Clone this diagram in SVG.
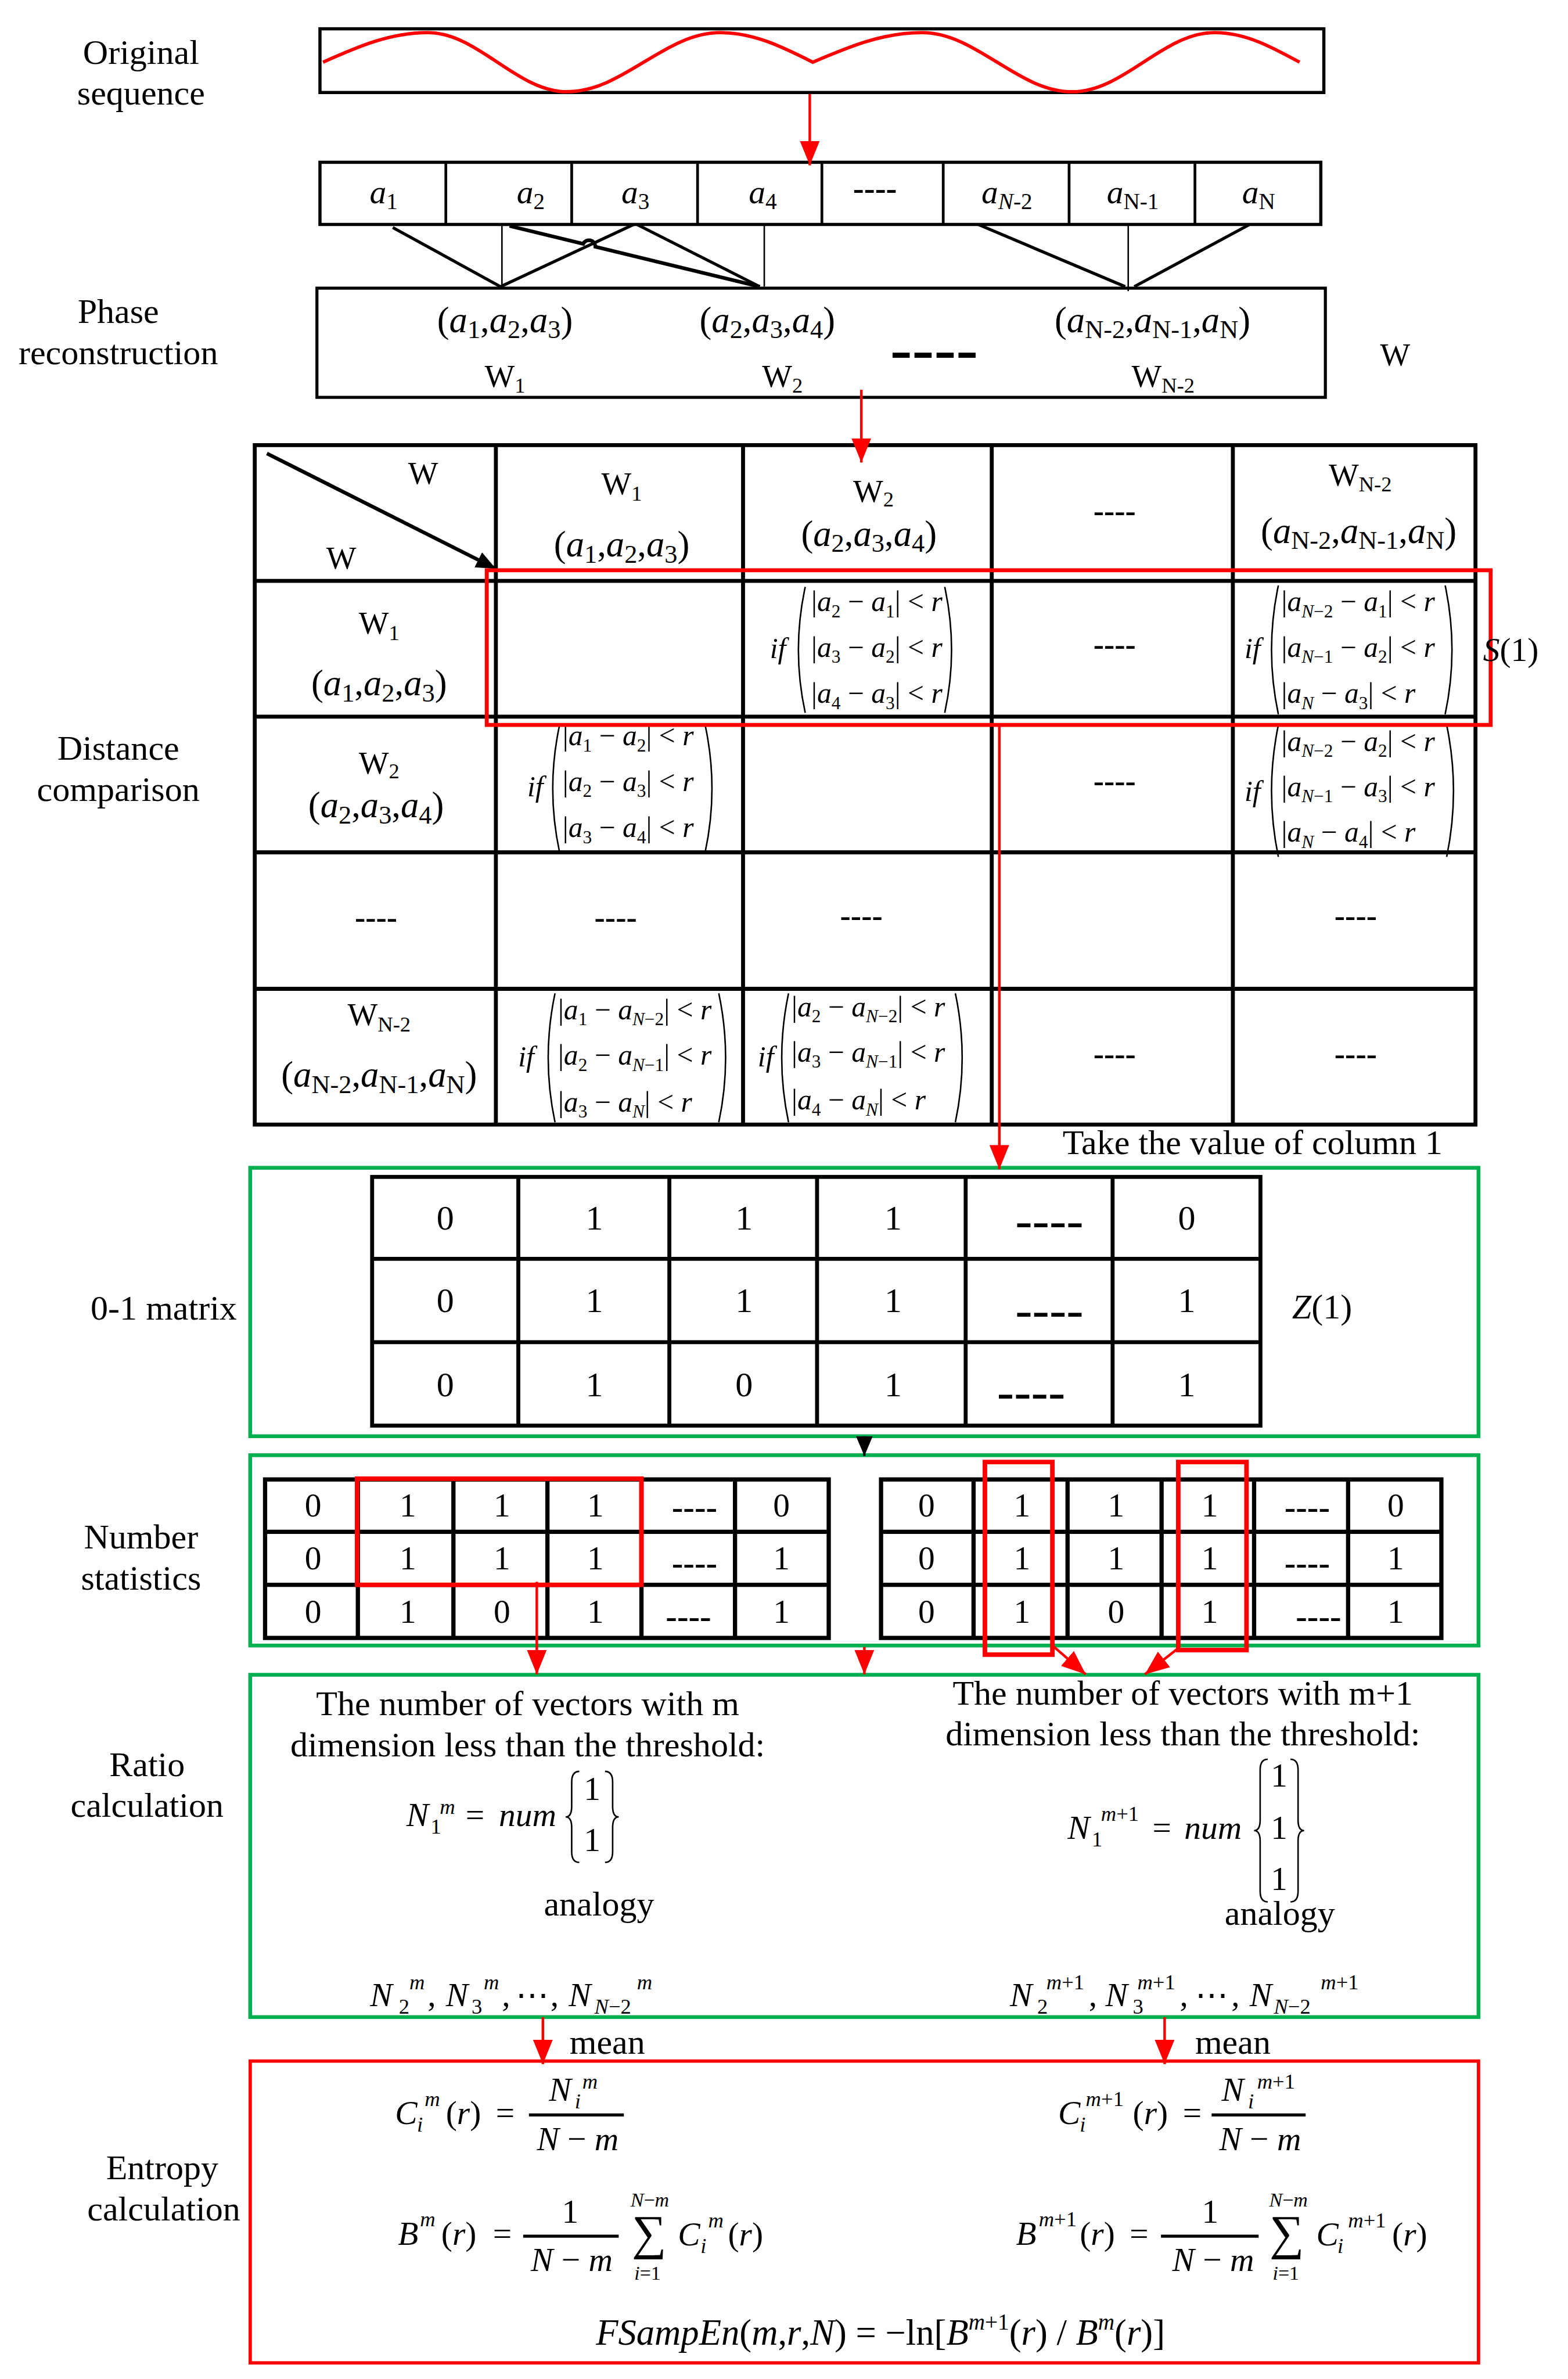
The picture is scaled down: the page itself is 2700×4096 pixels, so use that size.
<svg xmlns="http://www.w3.org/2000/svg" width="2700" height="4096" viewBox="0 0 2700 4096">
<defs>
<style>
text{font-family:"Liberation Serif","Times New Roman","DejaVu Serif",serif;fill:#000}
.lb{font-size:23px;text-anchor:middle}
.c{text-anchor:middle}
.it{font-style:italic}
.tp{font-size:24px}
.s16{font-size:17px}
.w{font-size:21px}
.s14{font-size:14px}
.mx{font-size:19px}
.sx{font-size:12px}
.fm{font-size:22px}
.ss{font-size:14px}
.n23{font-size:23px;text-anchor:middle}
.n22{font-size:22px;text-anchor:middle}
.d{font-weight:bold;text-anchor:middle}
.bx{fill:none;stroke:#000}
.ln{fill:none;stroke:#000}
.g{fill:none;stroke:#00B050;stroke-width:2.5}
.rd{fill:none;stroke:#f00}
.par{fill:none;stroke:#000;stroke-width:1}
.ra{stroke:#f00;stroke-width:1.7;fill:none;marker-end:url(#ar)}
</style>
<marker id="ar" viewBox="0 0 16 13" refX="16" refY="6.5" markerWidth="16" markerHeight="13" orient="auto" markerUnits="userSpaceOnUse"><path d="M0,0L16,6.5L0,13z" fill="#f00"/></marker>
<marker id="ab" viewBox="0 0 13 11" refX="13" refY="5.5" markerWidth="13" markerHeight="11" orient="auto" markerUnits="userSpaceOnUse"><path d="M0,0L13,5.5L0,11z" fill="#000"/></marker>
</defs>
<rect width="2700" height="4096" fill="#fff"/>
<g transform="scale(2.6112)">

<g id="labels">
<text class="lb" x="93" y="42">Original</text>
<text class="lb" x="93" y="69">sequence</text>
<text class="lb" x="78" y="213">Phase</text>
<text class="lb" x="78" y="240">reconstruction</text>
<text class="lb" x="78" y="501">Distance</text>
<text class="lb" x="78" y="528">comparison</text>
<text class="lb" x="108" y="870">0-1 matrix</text>
<text class="lb" x="93" y="1021">Number</text>
<text class="lb" x="93" y="1048">statistics</text>
<text class="lb" x="97" y="1171">Ratio</text>
<text class="lb" x="97" y="1198">calculation</text>
<text class="lb" x="107" y="1437">Entropy</text>
<text class="lb" x="108" y="1464">calculation</text>
</g>

<g id="sequence">
<rect x="211" y="19" width="662" height="42" class="bx" stroke-width="2.1"/>
<path d="M213,41 C235.5,31 257,21.5 282,21.5 C298.6,21.5 313,31 328,41 C343,51 357.4,60.5 374,60.5 C392.3,60.5 408,51 424.5,41 C441,31 456.7,21.5 475,21.5 C497,21.5 516.1,31 536,41 C559.5,31 582,21.5 608,21.5 C625.9,21.5 641.3,31 657.5,41 C673.7,51 689.1,60.5 707,60.5 C724,60.5 738.7,51 754,41 C769.3,31 784,21.5 801,21.5 C821.3,21.5 838.7,31 857,41" fill="none" stroke="#f00" stroke-width="2.2"/>
</g>

<g id="samples">
<rect x="211" y="107" width="660" height="41" class="bx" stroke-width="2.1"/>
<path d="M294,107V148M377,107V148M460,107V148M542,107V148M622,107V148M705,107V148M788,107V148" class="ln" stroke-width="1.8"/>
<text class="c" font-size="22" x="253" y="134"><tspan class="it">a</tspan><tspan font-size="15" dy="4">1</tspan></text>
<text class="c" font-size="22" x="350" y="134"><tspan class="it">a</tspan><tspan font-size="15" dy="4">2</tspan></text>
<text class="c" font-size="22" x="419" y="134"><tspan class="it">a</tspan><tspan font-size="15" dy="4">3</tspan></text>
<text class="c" font-size="22" x="503" y="134"><tspan class="it">a</tspan><tspan font-size="15" dy="4">4</tspan></text>
<text class="d" font-size="22" x="577" y="131.5" textLength="29" lengthAdjust="spacingAndGlyphs">----</text>
<text class="c" font-size="22" x="664" y="134"><tspan class="it">a</tspan><tspan font-size="15" dy="4"><tspan class="it">N</tspan>-2</tspan></text>
<text class="c" font-size="22" x="747" y="134"><tspan class="it">a</tspan><tspan font-size="15" dy="4">N-1</tspan></text>
<text class="c" font-size="22" x="830" y="134"><tspan class="it">a</tspan><tspan font-size="15" dy="4">N</tspan></text>
</g>

<g id="phase">
<rect x="209" y="190" width="665" height="72" class="bx" stroke-width="2"/>
<text class="tp c" x="333" y="219">(<tspan class="it">a</tspan><tspan class="s16" dy="4">1</tspan><tspan dy="-4">,</tspan><tspan class="it">a</tspan><tspan class="s16" dy="4">2</tspan><tspan dy="-4">,</tspan><tspan class="it">a</tspan><tspan class="s16" dy="4">3</tspan><tspan dy="-4">)</tspan></text>
<text class="tp c" x="506" y="219">(<tspan class="it">a</tspan><tspan class="s16" dy="4">2</tspan><tspan dy="-4">,</tspan><tspan class="it">a</tspan><tspan class="s16" dy="4">3</tspan><tspan dy="-4">,</tspan><tspan class="it">a</tspan><tspan class="s16" dy="4">4</tspan><tspan dy="-4">)</tspan></text>
<text class="tp c" x="760" y="219">(<tspan class="it">a</tspan><tspan class="s16" dy="4">N-2</tspan><tspan dy="-4">,</tspan><tspan class="it">a</tspan><tspan class="s16" dy="4">N-1</tspan><tspan dy="-4">,</tspan><tspan class="it">a</tspan><tspan class="s16" dy="4">N</tspan><tspan dy="-4">)</tspan></text>
<text class="d" font-size="40" x="616" y="243.5" textLength="58" lengthAdjust="spacingAndGlyphs">----</text>
<text class="w c" x="333" y="255">W<tspan class="s14" dy="4">1</tspan></text>
<text class="w c" x="516" y="255">W<tspan class="s14" dy="4">2</tspan></text>
<text class="w c" x="767" y="255">W<tspan class="s14" dy="4">N-2</tspan></text>
</g>

<g id="w-label">
<text class="w c" x="920" y="241">W</text>
</g>

<g id="distance-table">
<rect x="168" y="293.5" width="805" height="448" class="bx" stroke-width="2.6"/>
<path d="M327,293.5V741.5M490,293.5V741.5M654,293.5V741.5M813,293.5V741.5M168,383H973M168,472.5H973M168,562H973M168,652H973" class="ln" stroke-width="2.6"/>
<line x1="176" y1="299" x2="327" y2="375" stroke="#000" stroke-width="2.4" marker-end="url(#ab)"/>
<text class="w c" x="279" y="319">W</text>
<text class="w c" x="225" y="375">W</text>
<text class="w c" x="410" y="326">W<tspan class="s14" dy="4">1</tspan></text>
<text class="tp c" x="410" y="367">(<tspan class="it">a</tspan><tspan class="s16" dy="4">1</tspan><tspan dy="-4">,</tspan><tspan class="it">a</tspan><tspan class="s16" dy="4">2</tspan><tspan dy="-4">,</tspan><tspan class="it">a</tspan><tspan class="s16" dy="4">3</tspan><tspan dy="-4">)</tspan></text>
<text class="w c" x="576" y="331">W<tspan class="s14" dy="3">2</tspan></text>
<text class="tp c" x="573" y="360">(<tspan class="it">a</tspan><tspan class="s16" dy="4">2</tspan><tspan dy="-4">,</tspan><tspan class="it">a</tspan><tspan class="s16" dy="4">3</tspan><tspan dy="-4">,</tspan><tspan class="it">a</tspan><tspan class="s16" dy="4">4</tspan><tspan dy="-4">)</tspan></text>
<text class="d" font-size="21" x="735" y="344" textLength="28" lengthAdjust="spacingAndGlyphs">----</text>
<text class="w c" x="897" y="320">W<tspan class="s14" dy="4">N-2</tspan></text>
<text class="tp c" x="896" y="358">(<tspan class="it">a</tspan><tspan class="s16" dy="4">N-2</tspan><tspan dy="-4">,</tspan><tspan class="it">a</tspan><tspan class="s16" dy="4">N-1</tspan><tspan dy="-4">,</tspan><tspan class="it">a</tspan><tspan class="s16" dy="4">N</tspan><tspan dy="-4">)</tspan></text>

<text class="w c" x="250" y="418">W<tspan class="s14" dy="4">1</tspan></text>
<text class="tp c" x="250" y="458.5">(<tspan class="it">a</tspan><tspan class="s16" dy="4">1</tspan><tspan dy="-4">,</tspan><tspan class="it">a</tspan><tspan class="s16" dy="4">2</tspan><tspan dy="-4">,</tspan><tspan class="it">a</tspan><tspan class="s16" dy="4">3</tspan><tspan dy="-4">)</tspan></text>
<text class="mx it c" x="513" y="434">if</text>
<path class="par" d="M531,387 Q522,428.5 531,470M623,387 Q632,428.5 623,470"/>
<text class="mx" x="535" y="403">|<tspan class="it">a</tspan><tspan class="sx" dy="4">2</tspan><tspan dy="-4"> − </tspan><tspan class="it">a</tspan><tspan class="sx" dy="4">1</tspan><tspan dy="-4">| &lt; </tspan><tspan class="it">r</tspan></text>
<text class="mx" x="535" y="433">|<tspan class="it">a</tspan><tspan class="sx" dy="4">3</tspan><tspan dy="-4"> − </tspan><tspan class="it">a</tspan><tspan class="sx" dy="4">2</tspan><tspan dy="-4">| &lt; </tspan><tspan class="it">r</tspan></text>
<text class="mx" x="535" y="463.5">|<tspan class="it">a</tspan><tspan class="sx" dy="4">4</tspan><tspan dy="-4"> − </tspan><tspan class="it">a</tspan><tspan class="sx" dy="4">3</tspan><tspan dy="-4">| &lt; </tspan><tspan class="it">r</tspan></text>
<text class="d" font-size="21" x="735" y="432" textLength="28" lengthAdjust="spacingAndGlyphs">----</text>
<text class="mx it c" x="826" y="434">if</text>
<path class="par" d="M843,386 Q834,428.5 843,471M953,386 Q962,428.5 953,471"/>
<text class="mx" x="845" y="403">|<tspan class="it">a</tspan><tspan class="sx" dy="4"><tspan class="it">N</tspan>−2</tspan><tspan dy="-4"> − </tspan><tspan class="it">a</tspan><tspan class="sx" dy="4">1</tspan><tspan dy="-4">| &lt; </tspan><tspan class="it">r</tspan></text>
<text class="mx" x="845" y="433">|<tspan class="it">a</tspan><tspan class="sx" dy="4"><tspan class="it">N</tspan>−1</tspan><tspan dy="-4"> − </tspan><tspan class="it">a</tspan><tspan class="sx" dy="4">2</tspan><tspan dy="-4">| &lt; </tspan><tspan class="it">r</tspan></text>
<text class="mx" x="845" y="463.5">|<tspan class="it">a</tspan><tspan class="sx it" dy="4">N</tspan><tspan dy="-4"> − </tspan><tspan class="it">a</tspan><tspan class="sx" dy="4">3</tspan><tspan dy="-4">| &lt; </tspan><tspan class="it">r</tspan></text>

<text class="w c" x="250" y="510">W<tspan class="s14" dy="3">2</tspan></text>
<text class="tp c" x="248" y="539">(<tspan class="it">a</tspan><tspan class="s16" dy="4">2</tspan><tspan dy="-4">,</tspan><tspan class="it">a</tspan><tspan class="s16" dy="4">3</tspan><tspan dy="-4">,</tspan><tspan class="it">a</tspan><tspan class="s16" dy="4">4</tspan><tspan dy="-4">)</tspan></text>
<text class="mx it c" x="353" y="525">if</text>
<path class="par" d="M369,478 Q360,520 369,562M465,478 Q474,520 465,562"/>
<text class="mx" x="371" y="491.5">|<tspan class="it">a</tspan><tspan class="sx" dy="4">1</tspan><tspan dy="-4"> − </tspan><tspan class="it">a</tspan><tspan class="sx" dy="4">2</tspan><tspan dy="-4">| &lt; </tspan><tspan class="it">r</tspan></text>
<text class="mx" x="371" y="521.5">|<tspan class="it">a</tspan><tspan class="sx" dy="4">2</tspan><tspan dy="-4"> − </tspan><tspan class="it">a</tspan><tspan class="sx" dy="4">3</tspan><tspan dy="-4">| &lt; </tspan><tspan class="it">r</tspan></text>
<text class="mx" x="371" y="552">|<tspan class="it">a</tspan><tspan class="sx" dy="4">3</tspan><tspan dy="-4"> − </tspan><tspan class="it">a</tspan><tspan class="sx" dy="4">4</tspan><tspan dy="-4">| &lt; </tspan><tspan class="it">r</tspan></text>
<text class="d" font-size="21" x="735" y="522" textLength="28" lengthAdjust="spacingAndGlyphs">----</text>
<text class="mx it c" x="826" y="528">if</text>
<path class="par" d="M843,478 Q834,521.5 843,565M954,478 Q963,521.5 954,565"/>
<text class="mx" x="845" y="495">|<tspan class="it">a</tspan><tspan class="sx" dy="4"><tspan class="it">N</tspan>−2</tspan><tspan dy="-4"> − </tspan><tspan class="it">a</tspan><tspan class="sx" dy="4">2</tspan><tspan dy="-4">| &lt; </tspan><tspan class="it">r</tspan></text>
<text class="mx" x="845" y="525">|<tspan class="it">a</tspan><tspan class="sx" dy="4"><tspan class="it">N</tspan>−1</tspan><tspan dy="-4"> − </tspan><tspan class="it">a</tspan><tspan class="sx" dy="4">3</tspan><tspan dy="-4">| &lt; </tspan><tspan class="it">r</tspan></text>
<text class="mx" x="845" y="555">|<tspan class="it">a</tspan><tspan class="sx it" dy="4">N</tspan><tspan dy="-4"> − </tspan><tspan class="it">a</tspan><tspan class="sx" dy="4">4</tspan><tspan dy="-4">| &lt; </tspan><tspan class="it">r</tspan></text>

<text class="d" font-size="21" x="248" y="612" textLength="28" lengthAdjust="spacingAndGlyphs">----</text>
<text class="d" font-size="21" x="406" y="612" textLength="28" lengthAdjust="spacingAndGlyphs">----</text>
<text class="d" font-size="21" x="568" y="611" textLength="28" lengthAdjust="spacingAndGlyphs">----</text>
<text class="d" font-size="21" x="894" y="611" textLength="28" lengthAdjust="spacingAndGlyphs">----</text>

<text class="w c" x="250" y="676">W<tspan class="s14" dy="4">N-2</tspan></text>
<text class="tp c" x="250" y="716.7">(<tspan class="it">a</tspan><tspan class="s16" dy="4">N-2</tspan><tspan dy="-4">,</tspan><tspan class="it">a</tspan><tspan class="s16" dy="4">N-1</tspan><tspan dy="-4">,</tspan><tspan class="it">a</tspan><tspan class="s16" dy="4">N</tspan><tspan dy="-4">)</tspan></text>
<text class="mx it c" x="347" y="703">if</text>
<path class="par" d="M366,655 Q357,697.5 366,740M474,655 Q483,697.5 474,740"/>
<text class="mx" x="368" y="672">|<tspan class="it">a</tspan><tspan class="sx" dy="4">1</tspan><tspan dy="-4"> − </tspan><tspan class="it">a</tspan><tspan class="sx" dy="4"><tspan class="it">N</tspan>−2</tspan><tspan dy="-4">| &lt; </tspan><tspan class="it">r</tspan></text>
<text class="mx" x="368" y="702">|<tspan class="it">a</tspan><tspan class="sx" dy="4">2</tspan><tspan dy="-4"> − </tspan><tspan class="it">a</tspan><tspan class="sx" dy="4"><tspan class="it">N</tspan>−1</tspan><tspan dy="-4">| &lt; </tspan><tspan class="it">r</tspan></text>
<text class="mx" x="368" y="733">|<tspan class="it">a</tspan><tspan class="sx" dy="4">3</tspan><tspan dy="-4"> − </tspan><tspan class="it">a</tspan><tspan class="sx it" dy="4">N</tspan><tspan dy="-4">| &lt; </tspan><tspan class="it">r</tspan></text>
<text class="mx it c" x="505" y="703">if</text>
<path class="par" d="M520,655 Q511,697.5 520,740M630,655 Q639,697.5 630,740"/>
<text class="mx" x="522" y="670">|<tspan class="it">a</tspan><tspan class="sx" dy="4">2</tspan><tspan dy="-4"> − </tspan><tspan class="it">a</tspan><tspan class="sx" dy="4"><tspan class="it">N</tspan>−2</tspan><tspan dy="-4">| &lt; </tspan><tspan class="it">r</tspan></text>
<text class="mx" x="522" y="700">|<tspan class="it">a</tspan><tspan class="sx" dy="4">3</tspan><tspan dy="-4"> − </tspan><tspan class="it">a</tspan><tspan class="sx" dy="4"><tspan class="it">N</tspan>−1</tspan><tspan dy="-4">| &lt; </tspan><tspan class="it">r</tspan></text>
<text class="mx" x="522" y="731.5">|<tspan class="it">a</tspan><tspan class="sx" dy="4">4</tspan><tspan dy="-4"> − </tspan><tspan class="it">a</tspan><tspan class="sx it" dy="4">N</tspan><tspan dy="-4">| &lt; </tspan><tspan class="it">r</tspan></text>
<text class="d" font-size="21" x="735" y="702" textLength="28" lengthAdjust="spacingAndGlyphs">----</text>
<text class="d" font-size="21" x="894" y="702" textLength="28" lengthAdjust="spacingAndGlyphs">----</text>
</g>

<g id="row-highlight">
<rect x="321" y="376" width="662" height="102" class="rd" stroke-width="2.6"/>
<text font-size="22" x="978" y="436"><tspan class="it">S</tspan>(1)</text>
</g>

<g id="matrix">
<text class="lb" x="826" y="761">Take the value of column 1</text>
<rect x="165" y="770" width="810" height="177" class="g"/>
<rect x="245.4" y="776" width="585.8" height="164" class="bx" stroke-width="2.6"/>
<path d="M341.8,776V940M441.4,776V940M538.8,776V940M636.8,776V940M733.7,776V940M245.4,830H831.2M245.4,885H831.2" class="ln" stroke-width="2.6"/>
<text class="n23" x="293.6" y="810.6">0</text><text class="n23" x="392" y="810.6">1</text><text class="n23" x="490.7" y="810.6">1</text><text class="n23" x="589" y="810.6">1</text><text class="n23" x="782.6" y="810.6">0</text>
<text class="n23" x="293.6" y="865">0</text><text class="n23" x="392" y="865">1</text><text class="n23" x="490.7" y="865">1</text><text class="n23" x="589" y="865">1</text><text class="n23" x="782.6" y="865">1</text>
<text class="n23" x="293.6" y="920.5">0</text><text class="n23" x="392" y="920.5">1</text><text class="n23" x="490.7" y="920.5">0</text><text class="n23" x="589" y="920.5">1</text><text class="n23" x="782.6" y="920.5">1</text>
<text class="d" font-size="30" x="692" y="815" textLength="45" lengthAdjust="spacingAndGlyphs">----</text>
<text class="d" font-size="30" x="692" y="874" textLength="45" lengthAdjust="spacingAndGlyphs">----</text>
<text class="d" font-size="30" x="680" y="928" textLength="45" lengthAdjust="spacingAndGlyphs">----</text>
<text font-size="23" x="852" y="869.5"><tspan class="it">Z</tspan>(1)</text>
</g>

<g id="statistics">
<rect x="165" y="959.5" width="810" height="125.5" class="g"/>
<rect x="174.8" y="975.5" width="371.7" height="104.5" class="bx" stroke-width="2.8"/>
<path d="M236,975.5V1080M299,975.5V1080M361,975.5V1080M423,975.5V1080M484.7,975.5V1080M174.8,1010H546.5M174.8,1045H546.5" class="ln" stroke-width="2.8"/>
<rect x="581" y="975.5" width="369.5" height="104.5" class="bx" stroke-width="2.8"/>
<path d="M642,975.5V1080M704,975.5V1080M766,975.5V1080M827,975.5V1080M889,975.5V1080M581,1010H950.5M581,1045H950.5" class="ln" stroke-width="2.8"/>
<text class="n22" x="206.5" y="1000">0</text><text class="n22" x="269" y="1000">1</text><text class="n22" x="331" y="1000">1</text><text class="n22" x="392.7" y="1000">1</text><text class="n22" x="515.3" y="1000">0</text>
<text class="n22" x="206.5" y="1034.6">0</text><text class="n22" x="269" y="1034.6">1</text><text class="n22" x="331" y="1034.6">1</text><text class="n22" x="392.7" y="1034.6">1</text><text class="n22" x="515.3" y="1034.6">1</text>
<text class="n22" x="206.5" y="1070">0</text><text class="n22" x="269" y="1070">1</text><text class="n22" x="331" y="1070">0</text><text class="n22" x="392.7" y="1070">1</text><text class="n22" x="515.3" y="1070">1</text>
<text class="d" font-size="22" x="458" y="1001" textLength="30" lengthAdjust="spacingAndGlyphs">----</text>
<text class="d" font-size="22" x="458" y="1038" textLength="30" lengthAdjust="spacingAndGlyphs">----</text>
<text class="d" font-size="22" x="454" y="1073" textLength="30" lengthAdjust="spacingAndGlyphs">----</text>
<text class="n22" x="611" y="1000">0</text><text class="n22" x="674" y="1000">1</text><text class="n22" x="736" y="1000">1</text><text class="n22" x="797.8" y="1000">1</text><text class="n22" x="920.4" y="1000">0</text>
<text class="n22" x="611" y="1034.6">0</text><text class="n22" x="674" y="1034.6">1</text><text class="n22" x="736" y="1034.6">1</text><text class="n22" x="797.8" y="1034.6">1</text><text class="n22" x="920.4" y="1034.6">1</text>
<text class="n22" x="611" y="1070">0</text><text class="n22" x="674" y="1070">1</text><text class="n22" x="736" y="1070">0</text><text class="n22" x="797.8" y="1070">1</text><text class="n22" x="920.4" y="1070">1</text>
<text class="d" font-size="22" x="862" y="1001" textLength="30" lengthAdjust="spacingAndGlyphs">----</text>
<text class="d" font-size="22" x="862" y="1038" textLength="30" lengthAdjust="spacingAndGlyphs">----</text>
<text class="d" font-size="22" x="869.5" y="1073" textLength="30" lengthAdjust="spacingAndGlyphs">----</text>
<rect x="235.5" y="975" width="187.5" height="70" class="rd" stroke-width="3"/>
<rect x="649.5" y="964" width="44.5" height="127" class="rd" stroke-width="3"/>
<rect x="777" y="964" width="45" height="124" class="rd" stroke-width="3"/>
</g>

<g id="ratio">
<rect x="165" y="1104.3" width="810" height="225.7" class="g"/>
<text class="lb" x="348" y="1131">The number of vectors with m</text>
<text class="lb" x="348" y="1158">dimension less than the threshold:</text>
<text class="lb" x="780" y="1124">The number of vectors with m+1</text>
<text class="lb" x="780" y="1151">dimension less than the threshold:</text>
<text class="fm" y="1204"><tspan class="it" x="268">N</tspan><tspan class="ss" x="284" dy="5">1</tspan><tspan class="ss it" x="290" dy="-13">m</tspan><tspan x="307" dy="8">=</tspan><tspan class="it" x="329">num</tspan></text>
<path class="par" d="M382,1168 Q377,1168 377,1175 L377,1191 Q377,1198 373,1198 Q377,1198 377,1205 L377,1221 Q377,1228 382,1228M399,1168 Q404,1168 404,1175 L404,1191 Q404,1198 408,1198 Q404,1198 404,1205 L404,1221 Q404,1228 399,1228"/>
<text class="fm c" x="390.5" y="1187">1</text>
<text class="fm c" x="390.5" y="1220.5">1</text>
<text class="lb" x="395" y="1263">analogy</text>
<text class="fm" y="1212.5"><tspan class="it" x="704">N</tspan><tspan class="ss" x="720" dy="5">1</tspan><tspan class="ss" x="726" dy="-17"><tspan class="it">m</tspan>+1</tspan><tspan x="760" dy="12">=</tspan><tspan class="it" x="781">num</tspan></text>
<path class="par" d="M836,1160 Q831,1160 831,1167 L831,1200 Q831,1207 827,1207 Q831,1207 831,1214 L831,1247 Q831,1254 836,1254M851,1160 Q856,1160 856,1167 L856,1200 Q856,1207 860,1207 Q856,1207 856,1214 L856,1247 Q856,1254 851,1254"/>
<text class="fm c" x="843.5" y="1178">1</text>
<text class="fm c" x="843.5" y="1212.5">1</text>
<text class="fm c" x="843.5" y="1246">1</text>
<text class="lb" x="844" y="1269">analogy</text>
<text class="fm" y="1322.6"><tspan class="it" x="244">N</tspan><tspan class="ss" x="263" dy="5">2</tspan><tspan class="ss it" x="270" dy="-16">m</tspan><tspan x="282" dy="11">,</tspan><tspan class="it" x="294">N</tspan><tspan class="ss" x="311" dy="5">3</tspan><tspan class="ss it" x="319" dy="-16">m</tspan><tspan x="331" dy="11">,</tspan><tspan x="340">⋯</tspan><tspan x="363">,</tspan><tspan class="it" x="375">N</tspan><tspan class="ss" x="392" dy="5"><tspan class="it">N</tspan>−2</tspan><tspan class="ss it" x="420" dy="-16">m</tspan></text>
<text class="fm" y="1322.6"><tspan class="it" x="666">N</tspan><tspan class="ss" x="684" dy="5">2</tspan><tspan class="ss" x="690" dy="-16"><tspan class="it">m</tspan>+1</tspan><tspan x="718" dy="11">,</tspan><tspan class="it" x="729">N</tspan><tspan class="ss" x="747" dy="5">3</tspan><tspan class="ss" x="750" dy="-16"><tspan class="it">m</tspan>+1</tspan><tspan x="778" dy="11">,</tspan><tspan x="788">⋯</tspan><tspan x="812">,</tspan><tspan class="it" x="824">N</tspan><tspan class="ss" x="840" dy="5"><tspan class="it">N</tspan>−2</tspan><tspan class="ss" x="871" dy="-16"><tspan class="it">m</tspan>+1</tspan></text>
<text class="lb" x="400.5" y="1354">mean</text>
<text class="lb" x="813" y="1354">mean</text>
</g>

<g id="entropy">
<rect x="165" y="1359" width="810" height="199" class="rd" stroke-width="2.2"/>
<text class="fm" y="1400.6"><tspan class="it" x="260.5">C</tspan><tspan class="ss it" x="275" dy="5">i</tspan><tspan class="ss it" x="280" dy="-17">m</tspan><tspan x="294" dy="12">(</tspan><tspan class="it">r</tspan>)<tspan x="327">=</tspan></text>
<line x1="348.8" y1="1394.5" x2="411.4" y2="1394.5" stroke="#000" stroke-width="2"/>
<text class="fm" y="1385"><tspan class="it" x="362">N</tspan><tspan class="ss it" x="379" dy="5">i</tspan><tspan class="ss it" x="384" dy="-13">m</tspan></text>
<text class="fm c" x="381" y="1417.6"><tspan class="it">N</tspan> − <tspan class="it">m</tspan></text>
<text class="fm" y="1400.6"><tspan class="it" x="697.8">C</tspan><tspan class="ss it" x="712" dy="5">i</tspan><tspan class="ss" x="716" dy="-17"><tspan class="it">m</tspan>+1</tspan><tspan x="747" dy="12">(</tspan><tspan class="it">r</tspan>)<tspan x="780">=</tspan></text>
<line x1="799" y1="1394.5" x2="861" y2="1394.5" stroke="#000" stroke-width="2"/>
<text class="fm" y="1385"><tspan class="it" x="805.6">N</tspan><tspan class="ss it" x="823" dy="5">i</tspan><tspan class="ss" x="829" dy="-13"><tspan class="it">m</tspan>+1</tspan></text>
<text class="fm c" x="831" y="1417.6"><tspan class="it">N</tspan> − <tspan class="it">m</tspan></text>

<text class="fm" y="1480"><tspan class="it" x="262.4">B</tspan><tspan class="ss it" x="277" dy="-12">m</tspan><tspan x="291" dy="12">(</tspan><tspan class="it">r</tspan>)<tspan x="325">=</tspan></text>
<line x1="345" y1="1474.5" x2="408" y2="1474.5" stroke="#000" stroke-width="2"/>
<text class="fm c" x="376" y="1465.7">1</text>
<text class="fm c" x="377" y="1497.5"><tspan class="it">N</tspan> − <tspan class="it">m</tspan></text>
<text class="c" font-size="32" x="428" y="1483">∑</text>
<text class="c" font-size="13" x="428.5" y="1455"><tspan class="it">N</tspan>−<tspan class="it">m</tspan></text>
<text class="c" font-size="13" x="427" y="1503"><tspan class="it">i</tspan>=1</text>
<text class="fm" y="1480.5"><tspan class="it" x="447">C</tspan><tspan class="ss it" x="462" dy="5">i</tspan><tspan class="ss it" x="467" dy="-17">m</tspan><tspan x="480" dy="12">(</tspan><tspan class="it">r</tspan>)</text>

<text class="fm" y="1480"><tspan class="it" x="670">B</tspan><tspan class="ss" x="685" dy="-12"><tspan class="it">m</tspan>+1</tspan><tspan x="712" dy="12">(</tspan><tspan class="it">r</tspan>)<tspan x="745">=</tspan></text>
<line x1="765.6" y1="1474.5" x2="830" y2="1474.5" stroke="#000" stroke-width="2"/>
<text class="fm c" x="798" y="1465.7">1</text>
<text class="fm c" x="800" y="1497.5"><tspan class="it">N</tspan> − <tspan class="it">m</tspan></text>
<text class="c" font-size="32" x="848.5" y="1483">∑</text>
<text class="c" font-size="13" x="849.7" y="1455"><tspan class="it">N</tspan>−<tspan class="it">m</tspan></text>
<text class="c" font-size="13" x="848" y="1503"><tspan class="it">i</tspan>=1</text>
<text class="fm" y="1480.5"><tspan class="it" x="868">C</tspan><tspan class="ss it" x="882" dy="5">i</tspan><tspan class="ss" x="889" dy="-17"><tspan class="it">m</tspan>+1</tspan><tspan x="918" dy="12">(</tspan><tspan class="it">r</tspan>)</text>

<text font-size="24" x="393" y="1546"><tspan class="it">FSampEn</tspan>(<tspan class="it">m</tspan>,<tspan class="it">r</tspan>,<tspan class="it">N</tspan>) = −ln[<tspan class="it">B</tspan><tspan font-size="15" dy="-10"><tspan class="it">m</tspan>+1</tspan><tspan dy="10">(</tspan><tspan class="it">r</tspan>) / <tspan class="it">B</tspan><tspan font-size="15" class="it" dy="-10">m</tspan><tspan dy="10">(</tspan><tspan class="it">r</tspan>)]</text>
</g>

<g id="connectors">
<line class="ra" x1="534" y1="62" x2="534" y2="109"/>
<path class="ln" stroke-width="2" d="M259,150L330,189M418,148L330,189M420,148L501,189M645,148L742,189M824,148L748,189"/>
<path class="ln" stroke-width="1" d="M331,148V189M504,148V189M744,148V192"/>
<path class="ln" stroke-width="2.4" d="M336,149L384.6,160.8A4.2,4.2 0 0 1 392.6,162.7L501,189"/>
<line class="ra" x1="568" y1="257" x2="568" y2="305"/>
<line class="ra" x1="659" y1="478" x2="659" y2="771"/>
<line x1="570" y1="947" x2="570" y2="960" stroke="#000" stroke-width="1.5" marker-end="url(#ab)"/>
<line class="ra" x1="354" y1="1043" x2="354" y2="1104"/>
<line class="ra" x1="570" y1="1086" x2="570" y2="1104"/>
<line class="ra" stroke-width="2.2" x1="694" y1="1085" x2="716" y2="1104"/>
<line class="ra" stroke-width="2.2" x1="778" y1="1086" x2="755" y2="1104"/>
<line class="ra" x1="358" y1="1330" x2="358" y2="1361"/>
<line class="ra" x1="768" y1="1330" x2="768" y2="1361"/>
</g>
</g>
</svg>
